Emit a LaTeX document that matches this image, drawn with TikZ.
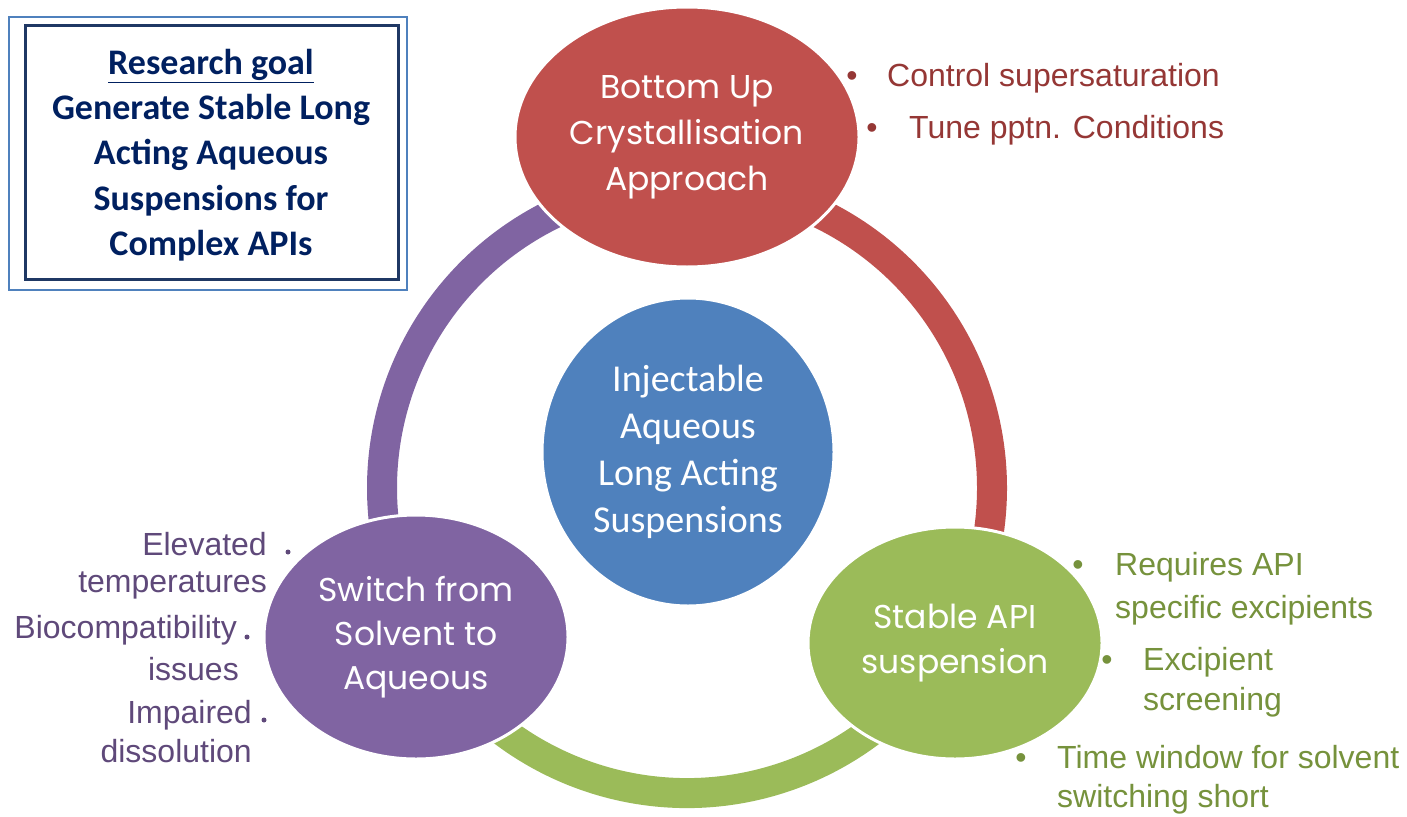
\documentclass[tikz,border=0pt]{standalone}
\usepackage{fontspec}
\setmainfont{Liberation Sans}
\newfontfamily\gothfont{Poppins}
\newfontfamily\calfont{Carlito}
\usepackage{tikz}
\usetikzlibrary{shapes.geometric}

\definecolor{redc}{RGB}{192,80,77}
\definecolor{bluec}{RGB}{79,129,189}
\definecolor{purc}{RGB}{128,100,162}
\definecolor{grnc}{RGB}{155,187,89}
\definecolor{redt}{RGB}{149,55,53}
\definecolor{grnt}{RGB}{118,146,60}
\definecolor{purt}{RGB}{95,73,122}
\definecolor{navy}{RGB}{0,32,96}
\definecolor{frameL}{RGB}{79,129,189}
\definecolor{frameD}{RGB}{31,56,100}

\tikzset{
  bubble/.style={ellipse, draw=white, line width=3pt, inner sep=0pt, text=white, align=center},
  ring/.style={line width=30pt},
  item/.style={anchor=base west, inner sep=0pt, font=\fontsize{32}{38}\selectfont},
  itemr/.style={anchor=base east, inner sep=0pt, font=\fontsize{32}{38}\selectfont},
  bul/.style={anchor=base, inner sep=0pt, font=\fontsize{32}{38}\selectfont},
}

\begin{document}
\begin{tikzpicture}[x=1pt,y=-1pt]

\fill[white](0,0) rectangle (1407,816);
\useasboundingbox (0,0) rectangle (1407,816);

% ring
\draw[ring,purc](687,488) ++(-90:305) arc[start angle=-90, end angle=-200, radius=305];
\draw[ring,redc](687,488) ++(-90:305) arc[start angle=-90, end angle=20, radius=305];
\draw[ring,grnc](687,488) ++(-200:305) arc[start angle=-200, end angle=-340, radius=305];

\node[bubble, fill=redc, minimum width=344pt, minimum height=260pt, font=\gothfont\fontsize{33}{46}\selectfont] (bottomup) at (687,137) {Bottom Up\\Crystallisation\\Approach};
\node[bubble, fill=bluec, minimum width=292pt, minimum height=308pt, font=\calfont\fontsize{38}{47}\selectfont] (inject) at (688,452) {Injectable\\Aqueous\\Long Acting\\Suspensions};
\node[bubble, fill=purc, minimum width=304pt, minimum height=244pt, font=\gothfont\fontsize{33}{44}\selectfont] (switch) at (416,637) {Switch from\\Solvent to\\Aqueous};
\node[bubble, fill=grnc, minimum width=294pt, minimum height=232pt, font=\gothfont\fontsize{33}{45}\selectfont] (stable) at (955,643) {Stable API\\suspension};

% goal box
\draw[frameL, line width=1.5pt](9,17) rectangle (407,290);
\draw[frameD, line width=3pt](25,26) rectangle (398,279);
\node[font=\calfont\bfseries\fontsize{36}{45.3}\selectfont, text=navy, align=center] (goal) at (211,155) {\underline{Research goal}\\Generate Stable Long\\Acting Aqueous\\Suspensions for\\Complex APIs};

% red list
\node[bul,text=redt] (rb1) at (852,86) {\textbullet};
\node[item,text=redt] (r1) at (887,86) {Control supersaturation};
\node[bul,text=redt] (rb2) at (872,138) {\textbullet};
\node[item,text=redt] (r2) at (909,138) {Tune pptn. Conditions};

% green list
\node[bul,text=grnt] (gb1) at (1078,575) {\textbullet};
\node[item,text=grnt] (g1a) at (1115,575) {Requires API};
\node[item,text=grnt] (g1b) at (1115,618) {specific excipients};
\node[bul,text=grnt] (gb2) at (1107,670) {\textbullet};
\node[item,text=grnt] (g2a) at (1143,670) {Excipient};
\node[item,text=grnt] (g2b) at (1143,710) {screening};
\node[bul,text=grnt] (gb3) at (1021,768) {\textbullet};
\node[item,text=grnt] (g3a) at (1057,768) {Time window for solvent};
\node[item,text=grnt] (g3b) at (1057,807) {switching short};

% purple list
\node[itemr,text=purt] (p1a) at (267,555) {Elevated};
\node[itemr,text=purt] (p1b) at (267,592) {temperatures};
\node[itemr,text=purt] (p2a) at (237,638) {Biocompatibility};
\node[itemr,text=purt] (p2b) at (239,680) {issues};
\node[itemr,text=purt] (p3a) at (252,723) {Impaired};
\node[itemr,text=purt] (p3b) at (252,762) {dissolution};
\fill[purt](288,552) circle(2.5);
\fill[purt](247,637) circle(2.5);
\fill[purt](264,720) circle(2.5);

\end{tikzpicture}
\end{document}
